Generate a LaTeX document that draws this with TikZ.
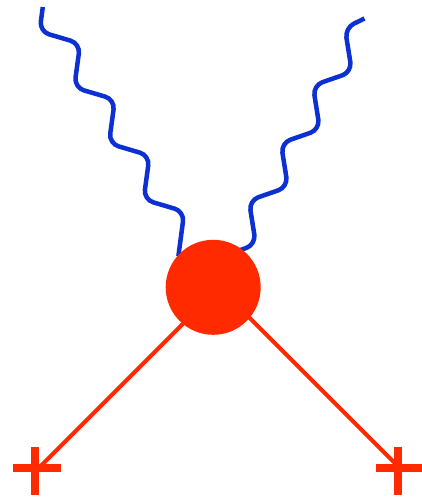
\documentclass[tikz,border=0pt]{standalone}
\definecolor{wblue}{RGB}{12,48,210}
\definecolor{bred}{RGB}{255,42,0}
\begin{document}
\begin{tikzpicture}[x=1pt,y=-1pt,
  photon/.style={draw=wblue, line width=4.5pt, rounded corners=10pt},
  leg/.style={draw=bred, line width=4pt},
  crossbar/.style={draw=bred, line width=8pt},
  blobstyle/.style={circle, fill=bred, minimum size=95pt, inner sep=0pt}]
\useasboundingbox (0,0) rectangle (422,499);
% named points
\coordinate (w1s) at (42.8,7);
\coordinate (w1e) at (178.4,256);
\coordinate (w2s) at (364.5,18.5);
\coordinate (w2e) at (232,253);
\coordinate (lc) at (35,468);
\coordinate (rc) at (397.5,468);
\coordinate (llegend) at (40,466.7);
\coordinate (lleg) at (190,316.7);
\coordinate (rlegend) at (396,464.3);
\coordinate (rleg) at (236,304.3);
% legs
\draw[leg] (llegend) -- (lleg);
\draw[leg] (rlegend) -- (rleg);
% crosses
\draw[crossbar] ([xshift=-21.7pt]lc) -- ([xshift=26pt]lc);
\draw[crossbar] ([yshift=21pt]lc) -- ([yshift=-26.5pt]lc);
\draw[crossbar] ([xshift=-21.5pt]rc) -- ([xshift=26.5pt]rc);
\draw[crossbar] ([yshift=21pt]rc) -- ([yshift=-26.5pt]rc);
% photons
\draw[photon] (w1s) -- (39.5,31.5) -- (80.2,43.5) -- (74.2,87.5) -- (114.9,99.5)
  -- (108.9,143.5) -- (149.6,155.5) -- (143.6,199.5) -- (184.3,211.5) -- (w1e);
\draw[photon] (w2s) -- (344.9,28) -- (351.9,72) -- (312.9,85.5) -- (319.9,129.5)
  -- (280.9,143) -- (287.9,187) -- (248.9,200.5) -- (255.9,244.5) -- (w2e);
% blob
\node[blobstyle] (blob) at (213.2,287.3) {};
\end{tikzpicture}
\end{document}
